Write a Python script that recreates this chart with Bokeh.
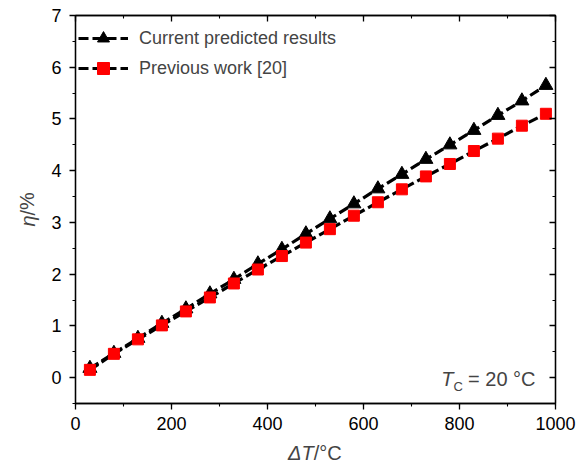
from bokeh.plotting import figure
from bokeh.layouts import row, column
from bokeh.models import (Range1d, LinearAxis, Label, Legend, LegendItem, FixedTicker,
                          CustomJSTickFormatter)
from bokeh.embed import file_html
from bokeh.resources import INLINE

delta_t = [30, 80, 130, 180, 230, 280, 330, 380, 430, 480,
           530, 580, 630, 680, 730, 780, 830, 880, 930, 980]
eta_current = [0.18, 0.47, 0.76, 1.05, 1.33, 1.62, 1.90, 2.20, 2.48, 2.78,
               3.07, 3.36, 3.65, 3.93, 4.22, 4.50, 4.78, 5.07, 5.35, 5.65]
eta_previous = [0.15, 0.46, 0.74, 1.01, 1.28, 1.55, 1.82, 2.09, 2.35, 2.61,
                2.87, 3.13, 3.39, 3.64, 3.89, 4.13, 4.38, 4.62, 4.87, 5.10]
label_current = "Current predicted results"
label_previous = "Previous work [20]"
x_ticks = [0, 200, 400, 600, 800, 1000]
x_minor = [0, 100, 200, 300, 400, 500, 600, 700, 800, 900, 1000]
y_ticks = [0, 1, 2, 3, 4, 5, 6, 7]
y_minor = [-0.5, 0, 0.5, 1, 1.5, 2, 2.5, 3, 3.5, 4, 4.5, 5, 5.5, 6, 6.5, 7]

FONT = "Liberation Sans"

# ---------------- main plot ----------------
W, H = 532, 440
p = figure(width=W, height=H, output_backend="svg", toolbar_location=None,
           x_range=Range1d(0, 1000), y_range=Range1d(-0.5, 7),
           min_border_left=31, min_border_right=21, min_border_top=15, min_border_bottom=37)
p.xgrid.visible = False
p.ygrid.visible = False
p.outline_line_color = "black"
p.outline_line_width = 1.3

for ax in (p.xaxis[0], p.yaxis[0]):
    ax.axis_line_width = 1.3
    ax.major_tick_line_width = 1.3
    ax.minor_tick_line_width = 1.1
    ax.major_tick_in = 0
    ax.major_tick_out = 6
    ax.minor_tick_in = 0
    ax.minor_tick_out = 3
    ax.major_label_text_font = FONT
    ax.major_label_text_font_size = "18px"
    ax.major_label_text_color = "black"
p.xaxis[0].major_label_standoff = 7
p.yaxis[0].major_label_standoff = 8

p.xaxis[0].ticker = FixedTicker(ticks=x_ticks, minor_ticks=x_minor)
p.yaxis[0].ticker = FixedTicker(ticks=y_ticks, minor_ticks=y_minor)

top = LinearAxis(ticker=FixedTicker(ticks=x_ticks, minor_ticks=x_minor))
right = LinearAxis(ticker=FixedTicker(ticks=y_ticks, minor_ticks=y_minor))
for ax in (top, right):
    ax.axis_line_width = 1.3
    ax.major_tick_line_width = 1.3
    ax.minor_tick_line_width = 1.1
    ax.major_tick_in = 6
    ax.major_tick_out = 0
    ax.minor_tick_in = 3
    ax.minor_tick_out = 0
    ax.formatter = CustomJSTickFormatter(code="return ''")
    ax.major_label_text_font_size = "1px"
    ax.major_label_standoff = 0
p.add_layout(top, "above")
p.add_layout(right, "right")

l1 = p.line(delta_t, eta_current, line_color="black", line_width=3.2, line_dash="10 4")
m1 = p.scatter(delta_t, eta_current, marker="triangle", size=14, fill_color="black", line_color="black")
l2 = p.line(delta_t, eta_previous, line_color="black", line_width=3.2, line_dash="10 4")
m2 = p.scatter(delta_t, eta_previous, marker="square", size=11, fill_color="#ff0000", line_color="#ff0000")

legend = Legend(items=[LegendItem(label=label_current, renderers=[l1, m1]),
                       LegendItem(label=label_previous, renderers=[l2, m2])],
                location=(3, 320), margin=0, padding=4, spacing=-2,
                glyph_width=50, glyph_height=30, label_height=20, label_standoff=11,
                label_text_font=FONT, label_text_font_size="18px",
                border_line_color=None, background_fill_alpha=0)
p.add_layout(legend, "center")

# T_C = 20 °C  (inside the frame)
px_per_x = 480 / 1000
px_per_y = 388 / 7.5
def dx(px):
    return (px - 75) / px_per_x
def dy(py):
    return (403 - py) / px_per_y - 0.5

p.add_layout(Label(x=dx(453), y=dy(378), text="T", text_font=FONT, text_font_style="italic",
                   text_font_size="20px", text_align="right", text_baseline="middle"))
p.add_layout(Label(x=dx(453), y=dy(386), text="C", text_font=FONT, text_font_size="13px",
                   text_align="left", text_baseline="middle"))
p.add_layout(Label(x=dx(535), y=dy(378), text="= 20 °C", text_font=FONT,
                   text_font_size="20px", text_align="right", text_baseline="middle"))

# ---------------- x-axis title strip ----------------
XH = 26
xt = figure(width=W, height=XH, output_backend="svg", toolbar_location=None,
            x_range=Range1d(0, W), y_range=Range1d(0, XH), x_axis_type=None, y_axis_type=None,
            min_border=0, outline_line_color=None)
xt.add_layout(Label(x=308 - 44, y=XH - 12, text="ΔT", text_font=FONT, text_font_style="italic",
                    text_font_size="20px", text_align="right", text_baseline="middle"))
xt.add_layout(Label(x=308 - 44, y=XH - 12, text="/°C", text_font=FONT,
                    text_font_size="20px", text_align="left", text_baseline="middle"))

# ---------------- y-axis title strip ----------------
YW = 44
yt = figure(width=YW, height=H, output_backend="svg", toolbar_location=None,
            x_range=Range1d(0, YW), y_range=Range1d(0, H), x_axis_type=None, y_axis_type=None,
            min_border=0, outline_line_color=None)
yt.add_layout(Label(x=27, y=H - 215, text="η", text_font=FONT, text_font_style="italic",
                    text_font_size="20px", text_align="right", text_baseline="middle", angle=1.5708))
yt.add_layout(Label(x=27, y=H - 215, text="/%", text_font=FONT,
                    text_font_size="20px", text_align="left", text_baseline="middle", angle=1.5708))

layout = row(yt, column(p, xt))
open("out.html", "w").write(file_html(layout, INLINE))
